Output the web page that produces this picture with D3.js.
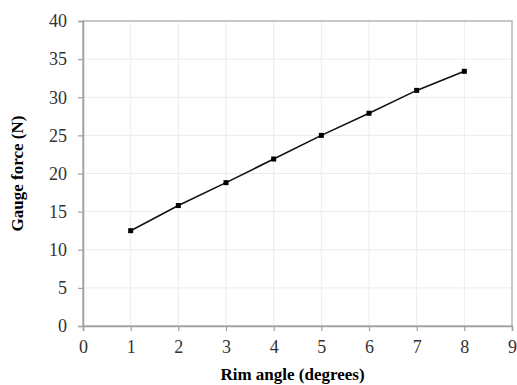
<!DOCTYPE html>
<meta charset="utf-8">
<head>
  <title>Gauge force vs rim angle</title>
  <style>
    body { margin: 0; background: #fff; }
    svg text { font-family: 'Liberation Serif', 'Times New Roman', serif !important; }
  </style>
</head>
<body>
  <script src="https://d3js.org/d3.v7.min.js"></script>
  <div id="chart"></div>
  <script>
    // data
    var angles = [1, 2, 3, 4, 5, 6, 7, 8];
    var forces = [12.5, 15.8, 18.8, 21.9, 25.0, 27.9, 30.9, 33.4];
    var xTicks = [0, 1, 2, 3, 4, 5, 6, 7, 8, 9];
    var yTicks = [0, 5, 10, 15, 20, 25, 30, 35, 40];

    var margin = {top: 21, right: 5, bottom: 59, left: 83},
        width = 517 - margin.left - margin.right,
        height = 385 - margin.top - margin.bottom;

    var svg = d3.select("#chart")
      .append("svg")
        .attr("width", 517)
        .attr("height", 385)
      .append("g")
        .attr("transform", "translate(" + margin.left + "," + margin.top + ")");

    var x = d3.scaleLinear().domain([0, 9]).range([0, width]);
    var y = d3.scaleLinear().domain([0, 40]).range([height, 0]);

    // light grid
    svg.append("g").selectAll("line")
      .data(xTicks)
      .enter().append("line")
        .attr("x1", function(d) { return x(d); })
        .attr("x2", function(d) { return x(d); })
        .attr("y1", 0).attr("y2", height)
        .attr("stroke", "#ececec");
    svg.append("g").selectAll("line")
      .data(yTicks)
      .enter().append("line")
        .attr("y1", function(d) { return y(d); })
        .attr("y2", function(d) { return y(d); })
        .attr("x1", 0).attr("x2", width)
        .attr("stroke", "#ececec");

    // frame
    svg.append("rect")
      .attr("width", width).attr("height", height)
      .attr("fill", "none").attr("stroke", "#b8b8b8").attr("stroke-width", 1.5);

    // axes
    var xAxis = svg.append("g")
      .attr("transform", "translate(0," + height + ")")
      .call(d3.axisBottom(x).tickValues(xTicks).tickSize(5).tickPadding(9));
    var yAxis = svg.append("g")
      .call(d3.axisLeft(y).tickValues(yTicks).tickSize(5).tickPadding(11));

    [xAxis, yAxis].forEach(function(a) {
      a.select(".domain").attr("stroke", "#a0a0a0").attr("stroke-width", 1.5);
      a.selectAll(".tick line").attr("stroke", "#a0a0a0").attr("stroke-width", 1.2);
      a.selectAll(".tick text")
        .attr("fill", "#333")
        .attr("font-family", "Liberation Serif")
        .style("font-size", "18px");
    });

    // line + markers
    var pts = angles.map(function(a, i) { return [a, forces[i]]; });
    svg.append("path")
      .datum(pts)
      .attr("fill", "none")
      .attr("stroke", "#111")
      .attr("stroke-width", 1.6)
      .attr("d", d3.line()
        .x(function(d) { return x(d[0]); })
        .y(function(d) { return y(d[1]); }));

    svg.selectAll("rect.pt")
      .data(pts)
      .enter().append("rect")
        .attr("class", "pt")
        .attr("x", function(d) { return x(d[0]) - 2.5; })
        .attr("y", function(d) { return y(d[1]) - 2.5; })
        .attr("width", 5).attr("height", 5)
        .attr("fill", "#000");

    // titles
    svg.append("text")
      .attr("x", width / 2 - 5)
      .attr("y", height + 54)
      .attr("text-anchor", "middle")
      .style("font-size", "17px")
      .style("font-weight", "bold")
      .text("Rim angle (degrees)");

    svg.append("text")
      .attr("transform", "translate(" + (-60) + "," + (height / 2) + ") rotate(-90)")
      .attr("text-anchor", "middle")
      .style("font-size", "17px")
      .style("font-weight", "bold")
      .text("Gauge force (N)");
  </script>
</body>
